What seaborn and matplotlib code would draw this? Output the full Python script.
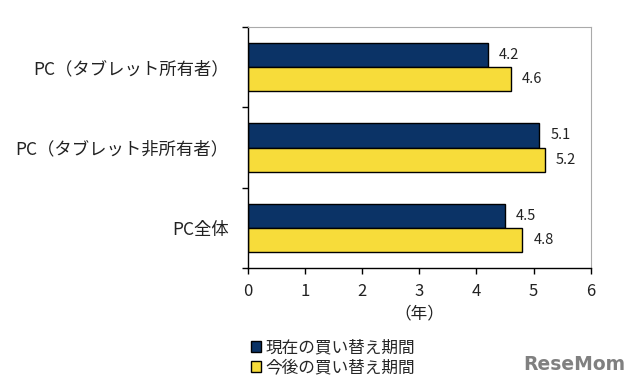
import matplotlib
matplotlib.use("Agg")
import matplotlib.pyplot as plt
import seaborn as sns
import pandas as pd
from matplotlib.patches import Patch
from matplotlib.ticker import FixedLocator

categories = ["PC（タブレット所有者）", "PC（タブレット非所有者）", "PC全体"]
series_names = ["現在の買い替え期間", "今後の買い替え期間"]
current_vals = [4.2, 5.1, 4.5]
future_vals = [4.6, 5.2, 4.8]
x_ticks = [0, 1, 2, 3, 4, 5, 6]
colors = ["#0B3366", "#F7DC3A"]

sns.set_theme(style="white")
plt.rcParams['font.family'] = ['Noto Sans CJK JP', 'DejaVu Sans']

rows = []
for c, v in zip(categories, current_vals):
    rows.append({"cat": c, "series": series_names[0], "val": v})
for c, v in zip(categories, future_vals):
    rows.append({"cat": c, "series": series_names[1], "val": v})
df = pd.DataFrame(rows)

fig = plt.figure(figsize=(6.4, 3.89), dpi=100)
ax = fig.add_axes([0.3875, 0.311, 0.5355, 0.6196])

sns.barplot(data=df, x="val", y="cat", hue="series", order=categories,
            hue_order=series_names, palette=colors, saturation=1, orient="h", width=0.6,
            edgecolor="black", linewidth=1.0, ax=ax, legend=False)

for cont in ax.containers:
    ax.bar_label(cont, fmt="%.1f", padding=8, fontsize=10.5, color="#222222")

ax.set_xlim(0, 6)
ax.set_ylim(2.5, -0.5)
ax.set_xticks(x_ticks)
ax.set_xticklabels([str(t) for t in x_ticks], fontsize=12, color="#222222")
ax.set_yticks(range(len(categories)))
ax.set_yticklabels(categories, fontsize=12.5, color="#222222")
ax.yaxis.set_minor_locator(FixedLocator([-0.5, 0.5, 1.5, 2.5]))
ax.tick_params(axis="y", which="major", length=0, pad=14)
ax.tick_params(axis="y", which="minor", length=4, width=1, color="black", direction="out", left=True)
ax.tick_params(axis="x", which="major", length=4, width=1, color="black", direction="out", bottom=True, pad=7)
ax.set_xlabel("（年）", fontsize=12, color="#222222", labelpad=4)
ax.set_ylabel("")

for s in ["left", "bottom"]:
    ax.spines[s].set_color("black")
    ax.spines[s].set_linewidth(1.0)
for s in ["top", "right"]:
    ax.spines[s].set_color("#AAAAAA")
    ax.spines[s].set_linewidth(0.8)

handles = [Patch(facecolor=colors[i], edgecolor="black", linewidth=1.0, label=series_names[i]) for i in range(2)]
fig.legend(handles=handles, loc="upper left", bbox_to_anchor=(0.392, 0.128), frameon=False,
           fontsize=12, handlelength=0.6, handleheight=0.6, handletextpad=0.25,
           labelspacing=0.2, borderaxespad=0, borderpad=0)

fig.text(0.977, 0.062, "ReseMom", ha="right", va="center", fontsize=13.5, fontweight="bold",
         color="#808080", family=["DejaVu Sans"])

fig.savefig("out.png", dpi=100, facecolor="white")
